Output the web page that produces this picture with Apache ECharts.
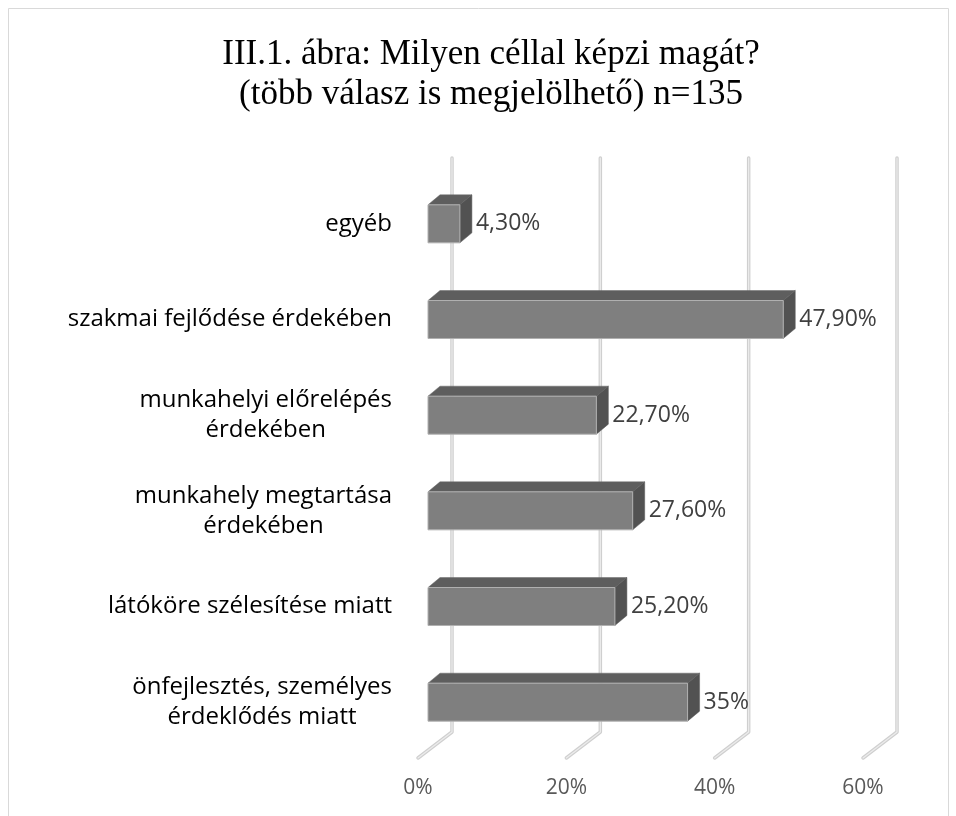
<!DOCTYPE html>
<html>
<head>
<meta charset="utf-8">
<script src="https://cdn.jsdelivr.net/npm/echarts@6/dist/echarts.min.js"></script>
<style>
  html, body { margin: 0; padding: 0; background: #fff; }
  #chart { width: 956px; height: 816px; }
</style>
</head>
<body>
<div id="chart"></div>
<script>
// categories from bottom to top (category axis starts at the bottom)
var categories = [
  'önfejlesztés, személyes\nérdeklődés miatt',
  'látóköre szélesítése miatt',
  'munkahely megtartása\nérdekében',
  'munkahelyi előrelépés\nérdekében',
  'szakmai fejlődése érdekében',
  'egyéb'
]
var values = [35, 25.2, 27.6, 22.7, 47.9, 4.3]
var ticks = [0, 20, 40, 60]

var FONT = '"Open Sans", sans-serif'

// pseudo 3D sizes in px
var BAR_SHIFT = 10
var BAR_H = 38
var DX = 12
var DY = 10
var BACK_DX = 34
var BACK_DY = 26

function fmt (v) {
  if (v % 1 === 0) return v + '%'
  return v.toFixed(2).replace('.', ',') + '%'
}

function renderBar (params, api) {
  var v = api.value(0)
  var c = api.value(1)
  var p0 = api.coord([0, c])
  var p1 = api.coord([v, c])
  var x0 = p0[0] + BAR_SHIFT
  var x1 = p1[0] + BAR_SHIFT
  var yT = p0[1] - BAR_H / 2
  var yB = p0[1] + BAR_H / 2
  return {
    type: 'group',
    children: [
      {
        type: 'polygon',
        shape: { points: [[x0, yT], [x0 + DX, yT - DY], [x1 + DX, yT - DY], [x1, yT]] },
        style: { fill: '#5e5e5e', stroke: '#6a6a6a', lineWidth: 0.5 }
      },
      {
        type: 'polygon',
        shape: { points: [[x1, yT], [x1 + DX, yT - DY], [x1 + DX, yB - DY], [x1, yB]] },
        style: { fill: '#525252', stroke: '#5a5a5a', lineWidth: 0.5 }
      },
      {
        type: 'rect',
        shape: { x: x0, y: yT, width: x1 - x0, height: BAR_H },
        style: { fill: '#7f7f7f', stroke: '#b0b0b0', lineWidth: 1 }
      },
      {
        type: 'text',
        x: x1 + DX + 4,
        y: p0[1],
        style: {
          text: fmt(v),
          fill: '#404040',
          font: '23px ' + FONT,
          textAlign: 'left',
          textVerticalAlign: 'middle'
        }
      }
    ]
  }
}

function renderGrid (params, api) {
  var cs = params.coordSys
  var x = api.coord([api.value(0), 0])[0]
  var top = cs.y - 18
  var backBottom = cs.y + cs.height - 18
  var front = backBottom + BACK_DY
  var pts = [[x + BACK_DX, top], [x + BACK_DX, backBottom], [x, front]]
  return {
    type: 'group',
    children: [
      {
        type: 'polyline',
        shape: { points: pts },
        style: { stroke: '#cfcfcf', lineWidth: 3.5, fill: null, lineCap: 'round', lineJoin: 'round' }
      },
      {
        type: 'polyline',
        shape: { points: pts },
        style: { stroke: '#ececec', lineWidth: 1.2, fill: null, lineCap: 'round', lineJoin: 'round' }
      }
    ]
  }
}

var chart = echarts.init(document.getElementById('chart'))
chart.setOption({
  backgroundColor: '#fff',
  animation: false,
  title: {
    text: 'III.1. ábra: Milyen céllal képzi magát?\n(több válasz is megjelölhető) n=135',
    left: 486,
    top: 30,
    textAlign: 'center',
    textStyle: {
      fontFamily: '"Liberation Serif", "Times New Roman", serif',
      fontSize: 35,
      fontWeight: 'normal',
      lineHeight: 40,
      color: '#000'
    }
  },
  graphic: [
    {
      type: 'rect',
      shape: { x: 8.5, y: 8.5, width: 940, height: 830 },
      style: { fill: null, stroke: '#d9d9d9', lineWidth: 1 },
      silent: true
    }
  ],
  grid: {
    left: 418,
    right: 93,
    top: 176,
    bottom: 66
  },
  xAxis: {
    type: 'value',
    min: 0,
    max: 60,
    interval: 20,
    axisLine: { show: false },
    axisTick: { show: false },
    splitLine: { show: false },
    axisLabel: {
      margin: 28,
      formatter: '{value}%',
      color: '#595959',
      fontFamily: FONT,
      fontSize: 21
    }
  },
  yAxis: {
    type: 'category',
    data: categories,
    axisLine: { show: false },
    axisTick: { show: false },
    splitLine: { show: false },
    axisLabel: {
      margin: 26,
      formatter: function (s) {
        return s.split('\n').map(function (l) { return '{c|' + l + '}' }).join('\n')
      },
      rich: {
        c: {
          align: 'center',
          fontFamily: FONT,
          fontSize: 24,
          lineHeight: 30,
          color: '#000'
        }
      }
    }
  },
  series: [
    {
      type: 'custom',
      name: 'grid',
      renderItem: renderGrid,
      clip: false,
      silent: true,
      z: 1,
      encode: { x: 0 },
      data: ticks.map(function (t) { return [t, 0] })
    },
    {
      type: 'custom',
      name: 'bars',
      renderItem: renderBar,
      clip: false,
      z: 2,
      encode: { x: 0, y: 1 },
      data: values.map(function (v, i) { return [v, i] })
    }
  ]
})
</script>
</body>
</html>
